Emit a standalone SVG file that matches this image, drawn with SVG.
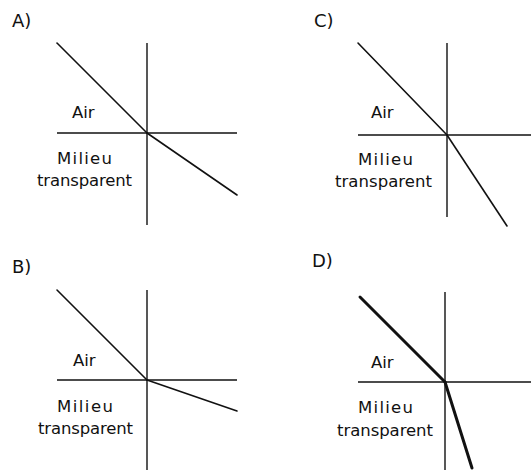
<svg xmlns="http://www.w3.org/2000/svg" width="531" height="470" viewBox="0 0 531 470">
<style>
text{font-family:"DejaVu Sans","Liberation Sans",sans-serif;fill:#111}
.lab{font-size:18px}
.t{font-size:16.5px}
.ax{stroke:#111;stroke-width:1.4;fill:none}
.ray{stroke:#111;stroke-width:1.6;fill:none;stroke-linecap:round}
.thick{stroke:#111;stroke-width:3;fill:none;stroke-linecap:round}
</style>
<rect width="531" height="470" fill="#fff"/>
<g id="panelA">
<text class="lab" x="12" y="27">A)</text>
<text class="t" x="72" y="118">Air</text>
<text class="t" x="57" y="164" textLength="55" lengthAdjust="spacing">Milieu</text>
<text class="t" x="37" y="186" textLength="95" lengthAdjust="spacing">transparent</text>
</g>
<g id="panelC">
<text class="lab" x="314" y="27">C)</text>
<text class="t" x="371" y="118">Air</text>
<text class="t" x="358" y="165" textLength="55" lengthAdjust="spacing">Milieu</text>
<text class="t" x="335" y="187" textLength="97" lengthAdjust="spacing">transparent</text>
</g>
<g id="panelB">
<text class="lab" x="12" y="273">B)</text>
<text class="t" x="73" y="366">Air</text>
<text class="t" x="57" y="412" textLength="56" lengthAdjust="spacing">Milieu</text>
<text class="t" x="38" y="434" textLength="95" lengthAdjust="spacing">transparent</text>
</g>
<g id="panelD">
<text class="lab" x="312" y="267">D)</text>
<text class="t" x="371" y="368">Air</text>
<text class="t" x="358" y="413" textLength="55" lengthAdjust="spacing">Milieu</text>
<text class="t" x="337" y="436" textLength="96" lengthAdjust="spacing">transparent</text>
</g>
<g id="connectors">
<line class="ax" x1="147" y1="43" x2="147" y2="225"/>
<line class="ax" x1="57" y1="133" x2="237" y2="133"/>
<line class="ray" x1="57" y1="43" x2="147" y2="133"/>
<line class="ray" x1="147" y1="133" x2="237" y2="195"/>
<line class="ax" x1="447" y1="43" x2="447" y2="217"/>
<line class="ax" x1="358" y1="135" x2="531" y2="135"/>
<line class="ray" x1="358" y1="43" x2="447" y2="135"/>
<line class="ray" x1="447" y1="135" x2="507" y2="226"/>
<line class="ax" x1="147" y1="290" x2="147" y2="470"/>
<line class="ax" x1="57" y1="380" x2="237" y2="380"/>
<line class="ray" x1="57" y1="290" x2="147" y2="380"/>
<line class="ray" x1="147" y1="380" x2="237" y2="411"/>
<line class="ax" x1="445" y1="292" x2="445" y2="470"/>
<line class="ax" x1="358" y1="382" x2="531" y2="382"/>
<line class="thick" x1="360" y1="297" x2="445" y2="382"/>
<line class="thick" x1="445" y1="382" x2="472" y2="468"/>
</g>
</svg>
